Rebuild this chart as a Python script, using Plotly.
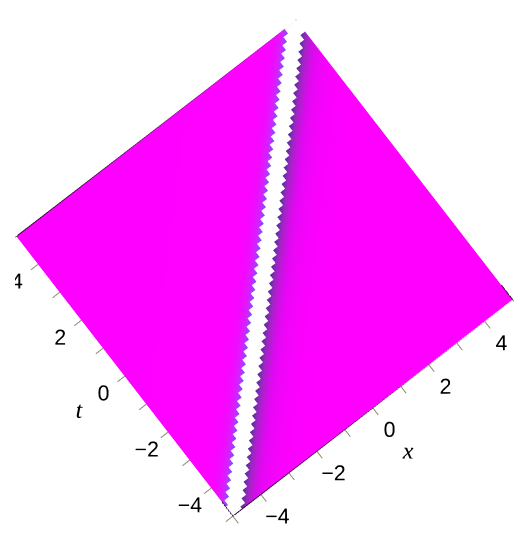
import numpy as np
import plotly.graph_objects as go

# Sample grid for the (x, t) plane
x_vals = np.linspace(-5, 5, 61)
t_vals = np.linspace(-5, 5, 61)

# Travelling singular wave parameters
speed = 1.0        # wave moves along x = speed * t
core_cut = 0.1     # values inside this band blow up and are clipped
left_width = 0.22  # decay length on the trailing side
right_width = 0.5  # decay length on the leading side
core_offset = 0.18

tick_vals = list(range(-5, 6))
tick_text = ["", "−4", "", "−2", "", "0", "", "2", "", "4", ""]

X, T = np.meshgrid(x_vals, t_vals)
xi = X - speed * T
u = np.where(
    xi >= 0,
    np.exp(-np.clip(xi - core_offset, 0, None) / right_width),
    -np.exp(-np.clip(-xi - core_offset, 0, None) / left_width),
)
u = np.where(np.abs(xi) < core_cut, np.nan, u)

colorscale = [
    [0.00, "#3a4cff"],
    [0.12, "#6a50ff"],
    [0.30, "#c030ff"],
    [0.50, "#ff00ff"],
    [0.62, "#e208f2"],
    [0.78, "#9a28c0"],
    [0.90, "#5e2ca0"],
    [1.00, "#3c2c8a"],
]

surface = go.Surface(
    x=x_vals,
    y=t_vals,
    z=u,
    cmin=-1,
    cmax=1,
    colorscale=colorscale,
    showscale=False,
    lighting=dict(ambient=1, diffuse=0, specular=0, roughness=1, fresnel=0),
    hoverinfo="skip",
)

# Dark outline around the edge of the plotted domain
x0, x1 = x_vals[0], x_vals[-1]
t0, t1 = t_vals[0], t_vals[-1]
outline = go.Scatter3d(
    x=[x0, x1, x1, x0, x0],
    y=[t0, t0, t1, t1, t0],
    z=[1.2] * 5,
    mode="lines",
    line=dict(color="#2a0a30", width=2),
    hoverinfo="skip",
)

fig = go.Figure([surface, outline])

axis_common = dict(
    tickvals=tick_vals,
    ticktext=tick_text,
    ticks="outside",
    ticklen=9,
    tickwidth=2,
    tickangle=0,
    tickcolor="#8c8c70",
    showgrid=False,
    zeroline=False,
    showbackground=False,
    showline=False,
    showspikes=False,
    range=[-5, 5],
    tickfont=dict(family="Liberation Sans, Arial", size=16, color="black"),
)

title_font = dict(family="Liberation Serif", size=24, color="black", style="italic")

fig.update_layout(
    width=514,
    height=536,
    margin=dict(l=0, r=0, t=0, b=0),
    paper_bgcolor="white",
    showlegend=False,
    scene=dict(
        domain=dict(x=[0.03, 1], y=[0, 1]),
        xaxis=dict(title=dict(text="x", font=title_font), **axis_common),
        yaxis=dict(title=dict(text="t", font=title_font), **axis_common),
        zaxis=dict(visible=False, range=[-1.2, 1.2]),
        aspectmode="manual",
        aspectratio=dict(x=1.32, y=1.32, z=0.02),
        camera=dict(
            projection=dict(type="orthographic"),
            eye=dict(x=0, y=0, z=1.43),
            up=dict(x=0.774, y=1, z=0),
            center=dict(x=0, y=0, z=0),
        ),
        bgcolor="white",
    ),
)

fig.write_html("out.html")
